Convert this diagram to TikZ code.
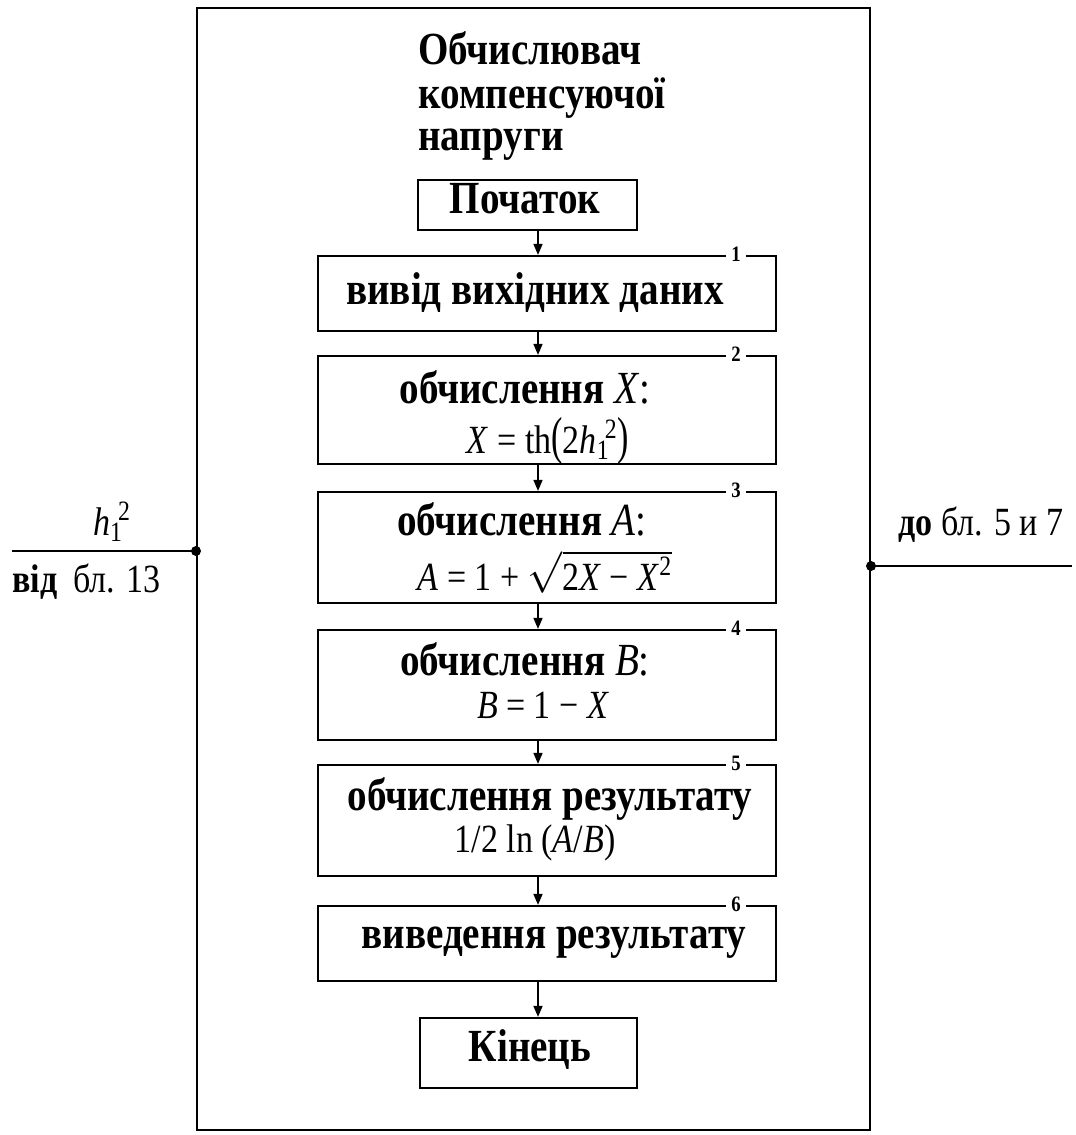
\documentclass[tikz,border=0pt]{standalone}
\usepackage{fontspec}
\setmainfont{Liberation Serif}[FakeStretch=0.85]
\usetikzlibrary{arrows.meta,calc}
\newcommand{\hsq}{\textit{h}\rlap{\textsubscript{1}}\kern0.2em\textsuperscript{2}}
\begin{document}
\begin{tikzpicture}[x=0.5pt,y=-0.5pt,
  box/.style={draw,line width=1.1pt,inner sep=0pt},
  blk/.style={box,minimum width=229pt},
  bt/.style={font=\fontsize{23}{26}\selectfont\bfseries,inner sep=0pt},
  eq/.style={font=\fontsize{20}{24}\selectfont,inner sep=0pt},
  side/.style={font=\fontsize{20}{24}\selectfont,inner sep=0pt},
  num/.style={font=\fontsize{11}{12}\selectfont\bfseries,fill=white,inner sep=2.5pt},
  arr/.style={line width=0.8pt,-{Triangle[length=5.5pt,width=4.5pt]}},
  dot/.style={fill,circle,inner sep=0pt,minimum size=5pt}]
\useasboundingbox (0,0) rectangle (1076,1135);
\fill[white] (0,0) rectangle (1076,1135);
% outer frame
\node[box,line width=1pt,minimum width=336.5pt,minimum height=561pt] (outer) at (533.5,569) {};
% title
\node[bt,anchor=base west] (t1) at (418,64) {Обчислювач};
\node[bt,anchor=base west] (t2) at (418,108) {компенсуючої};
\node[bt,anchor=base west] (t3) at (418,150) {напруги};
% blocks
\node[box,minimum width=109.5pt,minimum height=25pt] (start) at (527.5,205) {};
\node[bt] (startT) at (525,199) {Початок};
\node[blk,minimum height=37.5pt] (b1) at (547,293.5) {};
\node[blk,minimum height=54pt] (b2) at (547,410) {};
\node[blk,minimum height=55.5pt] (b3) at (547,547.5) {};
\node[blk,minimum height=55pt] (b4) at (547,685) {};
\node[blk,minimum height=55.5pt] (b5) at (547,820.5) {};
\node[blk,minimum height=37.5pt] (b6) at (547,943.5) {};
\node[box,minimum width=108.5pt,minimum height=35pt] (end) at (528.5,1053) {};
% numbers
\foreach \b/\n in {b1/1,b2/2,b3/3,b4/4,b5/5,b6/6}
  \node[num] (n\n) at ($(\b.north east)+(-41,-1)$) {\n};
% texts
\node[bt] (b1T) at (535,293) {вивід вихідних даних};
\node[bt] (b2T) at (525,387) {обчислення \textmd{\textit{X}:}};
\node[eq] (b2E) at (548,441) {\textit{X} = th\scalebox{1}[1.3]{(}2\hsq\scalebox{1}[1.3]{)}};
\node[bt] (b3T) at (522,519) {обчислення \textmd{\textit{A}:}};
\node[eq] (b3E) at (545,572) {\textit{A} = 1 + $\sqrt{\mbox{2\textit{X} − \textit{X}\textsuperscript{2}}}$};
\node[bt] (b4T) at (525,659) {обчислення \textmd{\textit{B}:}};
\node[eq] (b4E) at (543,705) {\textit{B} = 1 − \textit{X}};
\node[bt] (b5T) at (550,799) {обчислення результату};
\node[eq] (b5E) at (535,843) {1/2 ln (\textit{A}/\textit{B})};
\node[bt] (b6T) at (554,943) {виведення результату};
\node[bt] (endT) at (530,1050) {Кінець};
% arrows
\coordinate (ax) at (538,0);
\draw[arr] (start.south -| ax) -- (b1.north -| ax);
\draw[arr] (b1.south -| ax) -- (b2.north -| ax);
\draw[arr] (b2.south -| ax) -- (b3.north -| ax);
\draw[arr] (b3.south -| ax) -- (b4.north -| ax);
\draw[arr] (b4.south -| ax) -- (b5.north -| ax);
\draw[arr] (b5.south -| ax) -- (b6.north -| ax);
\draw[arr] (b6.south -| ax) -- (end.north -| ax);
% side connections
\coordinate (inL) at (12,551);
\coordinate (outR) at (1072,566);
\draw[line width=1.1pt] (inL) -- (outer.west |- inL) node[dot] (dL) {};
\draw[line width=1.1pt] (outer.east |- outR) node[dot] (dR) {} -- (outR);
\node[side] (hl) at (112,522) {\hsq};
\node[side,anchor=west] (fromL) at (12,582) {\textbf{від}\kern0.4em бл. 13};
\node[side,anchor=west] (toR) at (898,525) {\textbf{до} бл. 5 и 7};
\end{tikzpicture}
\end{document}
